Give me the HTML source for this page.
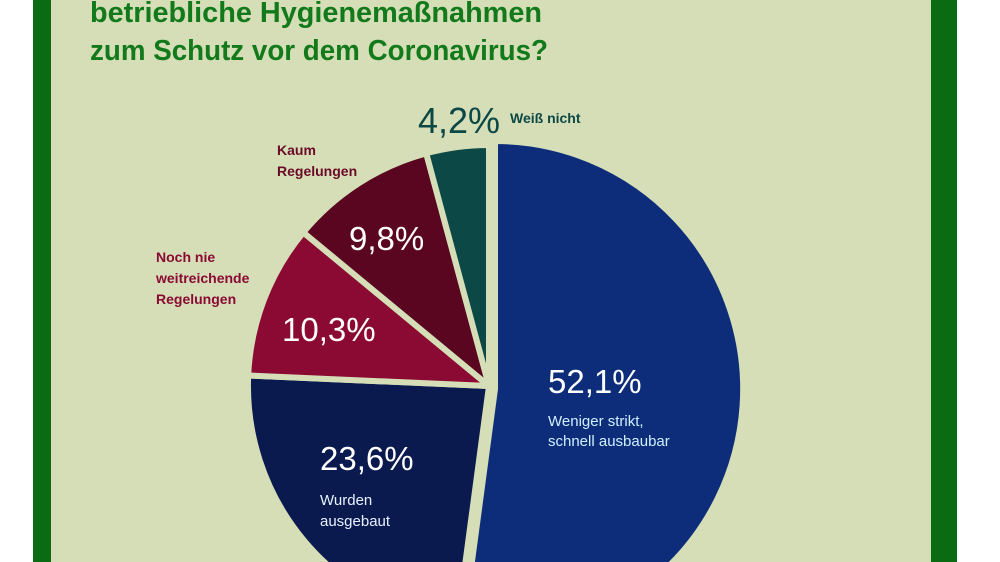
<!DOCTYPE html>
<html><head><meta charset="utf-8"><style>
html,body{margin:0;padding:0;background:#fff;width:1000px;height:562px;overflow:hidden;}
svg{display:block;overflow:hidden;}
text{font-family:"Liberation Sans",sans-serif;}
</style></head><body>
<svg width="1000" height="562" viewBox="0 0 1000 562" xmlns="http://www.w3.org/2000/svg">
<defs><clipPath id="c"><rect x="0" y="0" width="1000" height="562"/></clipPath></defs>
<g clip-path="url(#c)">
<rect x="0" y="0" width="1000" height="562" fill="#fff"/>
<rect x="33" y="0" width="924" height="562" fill="#d5deb6"/>
<rect x="33" y="0" width="18" height="562" fill="#0b6b12"/>
<rect x="931" y="0" width="26" height="562" fill="#0b6b12"/>
<text x="90" y="22" font-size="29" font-weight="bold" fill="#137a1c" textLength="452" lengthAdjust="spacingAndGlyphs">betriebliche Hygienemaßnahmen</text>
<text x="90" y="60" font-size="29" font-weight="bold" fill="#137a1c" textLength="458" lengthAdjust="spacingAndGlyphs">zum Schutz vor dem Coronavirus?</text>
<g stroke="#d5deb6" stroke-width="6" stroke-linejoin="round">
<path d="M495,389 L495,141 A248,248 0 1 1 462.2,634.8 Z" fill="#0d2d7a"/>
<path d="M489,386 L457.1,624.9 A241,241 0 0 1 248.2,375.5 Z" fill="#0a1a4f"/>
<path d="M489,386 L248.2,375.5 A241,241 0 0 1 303.3,232.4 Z" fill="#8a0a33"/>
<path d="M489,386 L303.3,232.4 A241,241 0 0 1 426.2,153.3 Z" fill="#5a0620"/>
<path d="M489,386 L426.2,153.3 A241,241 0 0 1 489,145 Z" fill="#0c4845"/>
</g>
<text x="418" y="133" font-size="36" fill="#0c4845">4,2%</text>
<text x="510" y="123" font-size="14" font-weight="bold" fill="#0c4845">Weiß nicht</text>
<text x="277" y="155" font-size="14" font-weight="bold" fill="#6a0a28">Kaum</text>
<text x="277" y="176" font-size="14" font-weight="bold" fill="#6a0a28">Regelungen</text>
<text x="156" y="262" font-size="14" font-weight="bold" fill="#8a0a33">Noch nie</text>
<text x="156" y="283" font-size="14" font-weight="bold" fill="#8a0a33">weitreichende</text>
<text x="156" y="304" font-size="14" font-weight="bold" fill="#8a0a33">Regelungen</text>
<text x="349" y="250" font-size="33" fill="#fff">9,8%</text>
<text x="282" y="341" font-size="33" fill="#fff">10,3%</text>
<text x="548" y="393" font-size="33" fill="#fff">52,1%</text>
<text x="548" y="426" font-size="15" fill="#cfefff">Weniger strikt,</text>
<text x="548" y="446" font-size="15" fill="#cfefff">schnell ausbaubar</text>
<text x="320" y="470" font-size="33" fill="#fff">23,6%</text>
<text x="320" y="505" font-size="15" fill="#e8f0ff">Wurden</text>
<text x="320" y="526" font-size="15" fill="#e8f0ff">ausgebaut</text>
</g>
</svg>
</body></html>
